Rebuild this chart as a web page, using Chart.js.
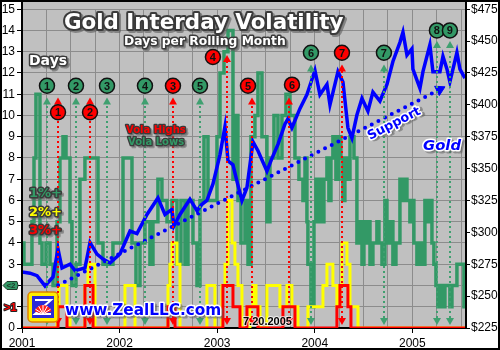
<!DOCTYPE html>
<html>
<head>
<meta charset="utf-8">
<script src="https://cdn.jsdelivr.net/npm/chart.js@4.4.0/dist/chart.umd.min.js"></script>
<style>
  html, body { margin: 0; padding: 0; background: #fff; }
  canvas { display: block; }
</style>
</head>
<body>
<canvas id="grafico" width="500" height="350"></canvas>
<script>
// --- datos (fechas en años decimales) ---
const fechaFin = 2005.55; // 7.20.2005

const oroFechas = [2001.000, 2001.082, 2001.154, 2001.236, 2001.318, 2001.369, 2001.410, 2001.492, 2001.543, 2001.645, 2001.697, 2001.768, 2001.830, 2001.902,
  2002.004, 2002.107, 2002.178, 2002.281, 2002.393, 2002.465, 2002.537, 2002.557, 2002.619, 2002.721, 2002.793, 2002.844, 2002.895, 2002.957,
  2003.029, 2003.080, 2003.111, 2003.162, 2003.203, 2003.254, 2003.305, 2003.367, 2003.418, 2003.510, 2003.561, 2003.623, 2003.695, 2003.725, 2003.766, 2003.848, 2003.920,
  2004.002, 2004.053, 2004.125, 2004.156, 2004.238, 2004.289, 2004.340, 2004.381, 2004.432, 2004.484, 2004.545, 2004.596, 2004.668, 2004.740, 2004.801, 2004.873, 2004.904, 2004.945, 2004.996,
  2005.006, 2005.078, 2005.109, 2005.180, 2005.211, 2005.283, 2005.314, 2005.355, 2005.385, 2005.457, 2005.488, 2005.539];
const oroPrecios = [269, 268, 266, 258, 265, 287, 272, 275, 270, 272, 292, 283, 279, 276,
  283, 301, 299, 314, 327, 314, 318, 305, 314, 326, 317, 322, 325, 338,
  361, 383, 356, 353, 340, 325, 335, 371, 364, 348, 358, 369, 385, 389, 382, 397, 408,
  427, 408, 416, 400, 426, 418, 382, 374, 392, 405, 395, 410, 403, 416, 434, 449, 457, 439, 444,
  428, 413, 426, 447, 426, 426, 438, 428, 418, 441, 428, 421];

// dias 1%+ por mes movil
const dias1Fechas = [2001.000, 2001.020, 2001.102, 2001.123, 2001.143, 2001.184, 2001.205, 2001.246, 2001.287, 2001.318, 2001.359, 2001.389, 2001.420, 2001.451, 2001.492, 2001.512, 2001.553, 2001.594, 2001.645, 2001.779, 2001.830, 2001.932,
  2002.035, 2002.127, 2002.168, 2002.209, 2002.260, 2002.311, 2002.342, 2002.393, 2002.434, 2002.486, 2002.537, 2002.588, 2002.629, 2002.670, 2002.701, 2002.752, 2002.793, 2002.824, 2002.865, 2002.906, 2002.998,
  2003.029, 2003.070, 2003.111, 2003.162, 2003.193, 2003.213, 2003.244, 2003.285, 2003.316, 2003.346, 2003.387, 2003.418, 2003.459, 2003.510, 2003.541, 2003.582, 2003.623, 2003.664, 2003.705, 2003.746, 2003.797, 2003.838, 2003.879, 2003.900, 2003.920, 2003.930, 2003.961, 2003.992,
  2004.012, 2004.033, 2004.053, 2004.074, 2004.094, 2004.125, 2004.145, 2004.166, 2004.186, 2004.217, 2004.248, 2004.268, 2004.289, 2004.309, 2004.340, 2004.361, 2004.402, 2004.432, 2004.453, 2004.484, 2004.504, 2004.525, 2004.545, 2004.566, 2004.596, 2004.637, 2004.658, 2004.689, 2004.719, 2004.740, 2004.770, 2004.801, 2004.832, 2004.873, 2004.893, 2004.924, 2004.945, 2004.975, 2004.996,
  2005.016, 2005.047, 2005.078, 2005.109, 2005.129, 2005.160, 2005.180, 2005.201, 2005.221, 2005.242, 2005.262, 2005.293, 2005.314, 2005.334, 2005.385, 2005.406, 2005.457, 2005.529, fechaFin];
const dias1Valores = [4, 3, 5, 8, 11, 4, 3, 4, 3, 2, 5, 8, 9, 8, 5, 2, 3, 7, 8, 4, 3, 4,
  8, 4, 2, 4, 5, 3, 5, 7, 6, 5, 6, 3, 6, 3, 6, 4, 2, 6, 9, 6, 9,
  12, 13, 14, 7, 10, 6, 4, 6, 3, 9, 10, 12, 9, 5, 8, 10, 8, 10, 11, 10, 8, 7, 6, 8, 5, 3, 1, 5,
  7, 5, 7, 5, 7, 8, 6, 8, 9, 7, 9, 8, 6, 8, 7, 9, 8, 4, 5, 3, 5, 4, 5, 3, 4, 5, 4, 3, 6, 4, 5, 3, 4, 7, 6, 7, 6, 5, 6,
  4, 3, 4, 3, 6, 5, 6, 4, 3, 2, 1, 2, 1, 2, 1, 2, 3, 1, 1];

// dias 2%+
const dias2Fechas = [2001.000, 2001.359, 2001.379, 2001.461, 2001.492, 2001.645, 2001.676, 2001.748,
  2002.055, 2002.158, 2002.496, 2002.516, 2002.537, 2002.588, 2002.619, 2002.895, 2002.977,
  2003.049, 2003.080, 2003.111, 2003.152, 2003.182, 2003.213, 2003.254, 2003.336, 2003.367, 2003.398, 2003.439, 2003.510, 2003.643, 2003.715, 2003.766, 2003.828, 2003.930,
  2004.084, 2004.125, 2004.186, 2004.227, 2004.258, 2004.279, 2004.330, 2004.361, 2004.443, fechaFin];
const dias2Valores = [0, 1, 2, 1, 0, 2, 3, 0,
  2, 0, 2, 3, 4, 3, 0, 2, 0,
  2, 3, 6, 4, 3, 2, 0, 1, 2, 1, 0, 2, 1, 2, 1, 0, 1,
  2, 3, 2, 1, 2, 4, 3, 1, 0, 0];

// dias 3%+
const dias3Fechas = [2001.000, 2001.369, 2001.461, 2001.645, 2001.728,
  2002.496, 2002.568, 2003.059, 2003.162, 2003.234, 2003.305, 2003.418, 2003.674, 2003.797,
  2004.227, 2004.258, 2004.340, 2004.371, fechaFin];
const dias3Valores = [0, 1, 0, 2, 0,
  1, 0, 2, 1, 0, 1, 0, 1, 0,
  1, 2, 1, 0, 0];

// linea de soporte
const soporteFechas = [2001.37, 2005.28];
const soportePrecios = [258.5, 412];

// minimos (verde) y maximos (rojo) de volatilidad
const minimosFechas = [2001.256, 2001.553, 2001.871, 2002.260, 2002.824, 2003.961, 2004.709, 2005.252, 2005.385];
const maximosFechas = [2001.369, 2001.697, 2002.547, 2003.100, 2003.357, 2003.736, 2004.279];

const anios = [2001, 2002, 2003, 2004, 2005];

// --- posiciones de las etiquetas (en dias del eje izquierdo) ---
const minimosEtiqueta = [11.4, 11.4, 11.4, 11.4, 11.4, 12.95, 12.95, 14.0, 14.0];
const minimosPunta = [10.85, 10.85, 10.85, 10.85, 10.85, 12.4, 12.4, 13.5, 13.5];
const maximosEtiqueta = [10.15, 10.15, 11.4, 12.75, 11.4, 11.45, 12.95];
const maximosPunta = [10.85, 10.85, 10.85, 12.85, 10.85, 10.85, 12.4];
const maximosDesplazamiento = [0, 0, 0, -14, -4, 3, 0];

const VERDE = '#339966';
const FUENTE = '"Liberation Sans", Arial, sans-serif';
const REDONDA = '"DejaVu Sans", Verdana, sans-serif';

const puntos = (xs, ys) => xs.map((x, i) => ({ x: x, y: ys[i] }));

function textoContorno(ctx, txt, x, y, font, relleno, borde, grosor, sombra) {
  ctx.save();
  ctx.font = font;
  ctx.textAlign = 'left';
  ctx.textBaseline = 'alphabetic';
  ctx.lineJoin = 'round';
  if (sombra) {
    ctx.fillStyle = sombra;
    ctx.strokeStyle = sombra;
    ctx.lineWidth = grosor;
    ctx.strokeText(txt, x + 2, y + 2);
    ctx.fillText(txt, x + 2, y + 2);
  }
  ctx.strokeStyle = borde;
  ctx.lineWidth = grosor;
  ctx.strokeText(txt, x, y);
  ctx.fillStyle = relleno;
  ctx.fillText(txt, x, y);
  ctx.restore();
}

// texto ajustado a un ancho dado
function textoAncho(ctx, txt, x, y, ancho, familia, peso, relleno, borde, grosor, sombra) {
  ctx.save();
  ctx.font = peso + ' 20px ' + familia;
  const tam = 20 * ancho / ctx.measureText(txt).width;
  ctx.restore();
  textoContorno(ctx, txt, x, y, peso + ' ' + tam.toFixed(1) + 'px ' + familia, relleno, borde, grosor, sombra);
}

function flecha(ctx, x, yPunta, yBase, color) {
  ctx.save();
  ctx.strokeStyle = color;
  ctx.fillStyle = color;
  ctx.lineWidth = 2;
  ctx.setLineDash([2, 3]);
  ctx.beginPath();
  ctx.moveTo(x, yBase - 7);
  ctx.lineTo(x, yPunta + 6);
  ctx.stroke();
  ctx.setLineDash([]);
  ctx.beginPath();
  ctx.moveTo(x, yPunta); ctx.lineTo(x - 4, yPunta + 7); ctx.lineTo(x + 4, yPunta + 7);
  ctx.fill();
  ctx.beginPath();
  ctx.moveTo(x, yBase); ctx.lineTo(x - 4, yBase - 7); ctx.lineTo(x + 4, yBase - 7);
  ctx.fill();
  ctx.restore();
}

function circulo(ctx, x, y, n, color) {
  ctx.save();
  ctx.beginPath();
  ctx.arc(x, y, 7.5, 0, Math.PI * 2);
  ctx.fillStyle = color;
  ctx.fill();
  ctx.lineWidth = 1.5;
  ctx.strokeStyle = '#111';
  ctx.stroke();
  ctx.fillStyle = '#111';
  ctx.font = 'bold 11px ' + FUENTE;
  ctx.textAlign = 'center';
  ctx.textBaseline = 'middle';
  ctx.fillText(String(n), x, y + 1);
  ctx.restore();
}

function logo(ctx, x, y) {
  ctx.save();
  ctx.fillStyle = '#ffee00';
  ctx.strokeStyle = '#e08000';
  ctx.lineWidth = 1.5;
  ctx.beginPath();
  ctx.roundRect(x, y, 30, 30, 4);
  ctx.fill();
  ctx.stroke();
  ctx.fillStyle = '#2a2ad8';
  ctx.fillRect(x + 4, y + 4, 22, 22);
  ctx.strokeStyle = '#ffffff';
  ctx.lineWidth = 2;
  ctx.beginPath();
  ctx.moveTo(x + 7, y + 8); ctx.lineTo(x + 23, y + 8); ctx.lineTo(x + 7, y + 22); ctx.lineTo(x + 23, y + 22);
  ctx.stroke();
  ctx.fillStyle = '#ff2020';
  ctx.beginPath();
  ctx.moveTo(x + 15, y + 22);
  ctx.arc(x + 15, y + 22, 9, Math.PI * 1.1, Math.PI * 1.9);
  ctx.closePath();
  ctx.fill();
  ctx.strokeStyle = '#ffffff';
  ctx.lineWidth = 1;
  for (let k = 0; k < 5; k++) {
    const ang = Math.PI * (1.18 + k * 0.16);
    ctx.beginPath();
    ctx.moveTo(x + 15, y + 22);
    ctx.lineTo(x + 15 + Math.cos(ang) * 9, y + 22 + Math.sin(ang) * 9);
    ctx.stroke();
  }
  ctx.restore();
}

const fondoPlugin = {
  id: 'fondo',
  beforeDraw(chart) {
    const { ctx, chartArea: a } = chart;
    ctx.save();
    ctx.fillStyle = '#ffffff';
    ctx.fillRect(0, 0, chart.width, chart.height);
    ctx.fillStyle = '#c0c0c0';
    ctx.fillRect(a.left, 2, a.right - a.left, a.bottom - 2);
    ctx.restore();
  },
  afterDraw(chart) {
    const { ctx, chartArea: a, scales } = chart;
    const sx = scales.x, sy = scales.y;

    // flechas y circulos
    minimosFechas.forEach((f, i) => {
      const px = Math.round(sx.getPixelForValue(f));
      flecha(ctx, px, sy.getPixelForValue(minimosPunta[i]), a.bottom - 3, '#3fa070');
    });
    maximosFechas.forEach((f, i) => {
      const px = Math.round(sx.getPixelForValue(f));
      flecha(ctx, px, sy.getPixelForValue(maximosPunta[i]), a.bottom - 3, '#ff0000');
    });
    minimosFechas.forEach((f, i) => {
      circulo(ctx, sx.getPixelForValue(f), sy.getPixelForValue(minimosEtiqueta[i]), i + 1, VERDE);
    });
    maximosFechas.forEach((f, i) => {
      circulo(ctx, sx.getPixelForValue(f) + maximosDesplazamiento[i], sy.getPixelForValue(maximosEtiqueta[i]), i + 1, '#ff0000');
    });

    // ejes extendidos hasta arriba
    ctx.save();
    ctx.fillStyle = '#000';
    ctx.fillRect(a.left - 1, 2, 2, a.bottom - 2);
    ctx.fillRect(a.right - 1, 2, 2, a.bottom - 2);
    ctx.restore();

    // titulos
    textoAncho(ctx, 'Gold Interday Volatility', 64, 29, 280, REDONDA, 'bold', '#ffffff', '#3a3a3a', 4, 'rgba(90,90,90,0.6)');
    textoAncho(ctx, 'Days per Rolling Month', 124, 45, 162, REDONDA, 'bold', '#ffffff', '#3a3a3a', 3, 'rgba(90,90,90,0.6)');
    textoAncho(ctx, 'Days', 29, 65, 38, REDONDA, 'bold', '#ffffff', '#3a3a3a', 3, 'rgba(90,90,90,0.6)');
    textoAncho(ctx, 'Vola Highs', 126, 133, 60, REDONDA, 'bold', '#ff0000', '#3a3a3a', 2.5, 'rgba(90,90,90,0.5)');
    textoAncho(ctx, 'Vola Lows', 128, 145, 56, REDONDA, 'bold', VERDE, '#3a3a3a', 2.5, 'rgba(90,90,90,0.5)');
    textoAncho(ctx, '1%+', 29, 197, 33, REDONDA, 'bold', VERDE, '#3a3a3a', 3, 'rgba(90,90,90,0.5)');
    textoAncho(ctx, '2%+', 29, 216, 33, REDONDA, 'bold', '#ffff00', '#3a3a3a', 3, 'rgba(90,90,90,0.5)');
    textoAncho(ctx, '3%+', 29, 234, 33, REDONDA, 'bold', '#ff0000', '#3a3a3a', 3, 'rgba(90,90,90,0.5)');
    textoAncho(ctx, 'Gold', 423, 150, 38, REDONDA, 'italic bold', '#0000ff', '#ffffff', 3, 'rgba(90,90,90,0.5)');

    // texto del soporte, girado
    const p0 = { x: sx.getPixelForValue(soporteFechas[0]), y: scales.y2.getPixelForValue(soportePrecios[0]) };
    const p1 = { x: sx.getPixelForValue(soporteFechas[1]), y: scales.y2.getPixelForValue(soportePrecios[1]) };
    ctx.save();
    ctx.translate(370, 140);
    ctx.rotate(Math.atan2(p1.y - p0.y, p1.x - p0.x));
    textoAncho(ctx, 'Support', 0, 0, 58, REDONDA, 'bold', '#0000ff', '#ffffff', 3, 'rgba(90,90,90,0.5)');
    ctx.restore();

    // marca de agua
    logo(ctx, 28, 292);
    textoAncho(ctx, 'www.ZealLLC.com', 65, 315, 156, REDONDA, 'bold', '#0000ff', '#ffffff', 3, 'rgba(90,90,90,0.5)');
    textoContorno(ctx, '7.20.2005', 243, 325, 'bold 11px ' + FUENTE, '#000000', 'rgba(255,255,255,0.7)', 2);

    // etiquetas especiales del eje izquierdo
    const y2d = sy.getPixelForValue(2), y1d = sy.getPixelForValue(1);
    ctx.save();
    ctx.fillStyle = VERDE;
    ctx.strokeStyle = '#1e3a2a';
    ctx.lineWidth = 1;
    ctx.beginPath();
    ctx.moveTo(3, y2d);
    ctx.lineTo(7, y2d - 4);
    ctx.lineTo(17, y2d - 4);
    ctx.lineTo(18, y2d);
    ctx.lineTo(17, y2d + 4);
    ctx.lineTo(7, y2d + 4);
    ctx.closePath();
    ctx.fill();
    ctx.stroke();
    ctx.fillStyle = '#1e3a2a';
    ctx.font = 'bold 8px ' + FUENTE;
    ctx.textAlign = 'center';
    ctx.textBaseline = 'middle';
    ctx.fillText('<2', 11, y2d + 0.5);
    ctx.restore();
    textoContorno(ctx, '>1', 4, y1d + 4, 'bold 11px ' + FUENTE, '#ff0000', '#222', 2);

    // marco
    ctx.save();
    ctx.strokeStyle = '#000';
    ctx.lineWidth = 2;
    ctx.strokeRect(1, 1, chart.width - 2, chart.height - 2);
    ctx.restore();
  }
};

const ctx = document.getElementById('grafico').getContext('2d');
new Chart(ctx, {
  type: 'line',
  data: {
    datasets: [
      {
        label: 'Gold',
        data: puntos(oroFechas, oroPrecios),
        yAxisID: 'y2',
        borderColor: '#0000ff',
        borderWidth: 3.5,
        pointRadius: 0,
        tension: 0
      },
      {
        label: 'Support',
        data: puntos(soporteFechas, soportePrecios),
        yAxisID: 'y2',
        borderColor: '#0000ff',
        borderWidth: 4,
        borderDash: [0, 7.5],
        borderCapStyle: 'round',
        pointStyle: 'triangle',
        pointRadius: [0, 6],
        pointRotation: 63,
        pointBackgroundColor: '#0000ff',
        pointBorderColor: '#0000ff',
        pointBorderWidth: 1
      },
      {
        label: '3%+',
        data: puntos(dias3Fechas, dias3Valores),
        yAxisID: 'y',
        borderColor: '#ff0000',
        borderWidth: 3,
        stepped: true,
        pointRadius: 0
      },
      {
        label: '2%+',
        data: puntos(dias2Fechas, dias2Valores),
        yAxisID: 'y',
        borderColor: '#ffff00',
        borderWidth: 3,
        stepped: true,
        pointRadius: 0
      },
      {
        label: '1%+',
        data: puntos(dias1Fechas, dias1Valores),
        yAxisID: 'y',
        borderColor: VERDE,
        borderWidth: 3.5,
        stepped: true,
        pointRadius: 0
      }
    ]
  },
  options: {
    responsive: false,
    animation: false,
    layout: { padding: { top: 7, left: 0, right: 0, bottom: 0 } },
    plugins: { legend: { display: false }, tooltip: { enabled: false } },
    scales: {
      x: {
        type: 'linear',
        min: anios[0],
        max: fechaFin,
        bounds: 'data',
        afterFit: s => { s.height = 22; },
        ticks: {
          stepSize: 0.25,
          includeBounds: false,
          autoSkip: false,
          maxRotation: 0,
          padding: 3,
          color: '#000',
          font: { family: FUENTE, size: 12 },
          callback: v => anios.includes(v) ? String(v) : ''
        },
        grid: {
          color: '#8c8c8c',
          lineWidth: 1,
          tickLength: 5,
          tickColor: c => (c.tick && anios.includes(c.tick.value)) ? '#000' : 'rgba(0,0,0,0)'
        },
        border: { color: '#000', width: 2 }
      },
      y: {
        position: 'left',
        min: 0,
        max: 15,
        afterFit: s => { s.width = 22; },
        ticks: {
          stepSize: 1,
          padding: 2,
          color: '#000',
          font: { family: FUENTE, size: 12 },
          callback: v => (v === 1 || v === 2) ? '' : String(v)
        },
        grid: { color: '#8c8c8c', lineWidth: 1, tickLength: 5, tickColor: '#000' },
        border: { color: '#000', width: 2 }
      },
      y2: {
        position: 'right',
        min: 225,
        max: 475,
        afterFit: s => { s.width = 34; },
        ticks: {
          stepSize: 25,
          padding: 1,
          color: '#000',
          font: { family: FUENTE, size: 12 },
          callback: v => '$' + v
        },
        grid: { drawOnChartArea: false, tickLength: 4, tickColor: '#000' },
        border: { color: '#000', width: 2 }
      }
    }
  },
  plugins: [fondoPlugin]
});
</script>
</body>
</html>
